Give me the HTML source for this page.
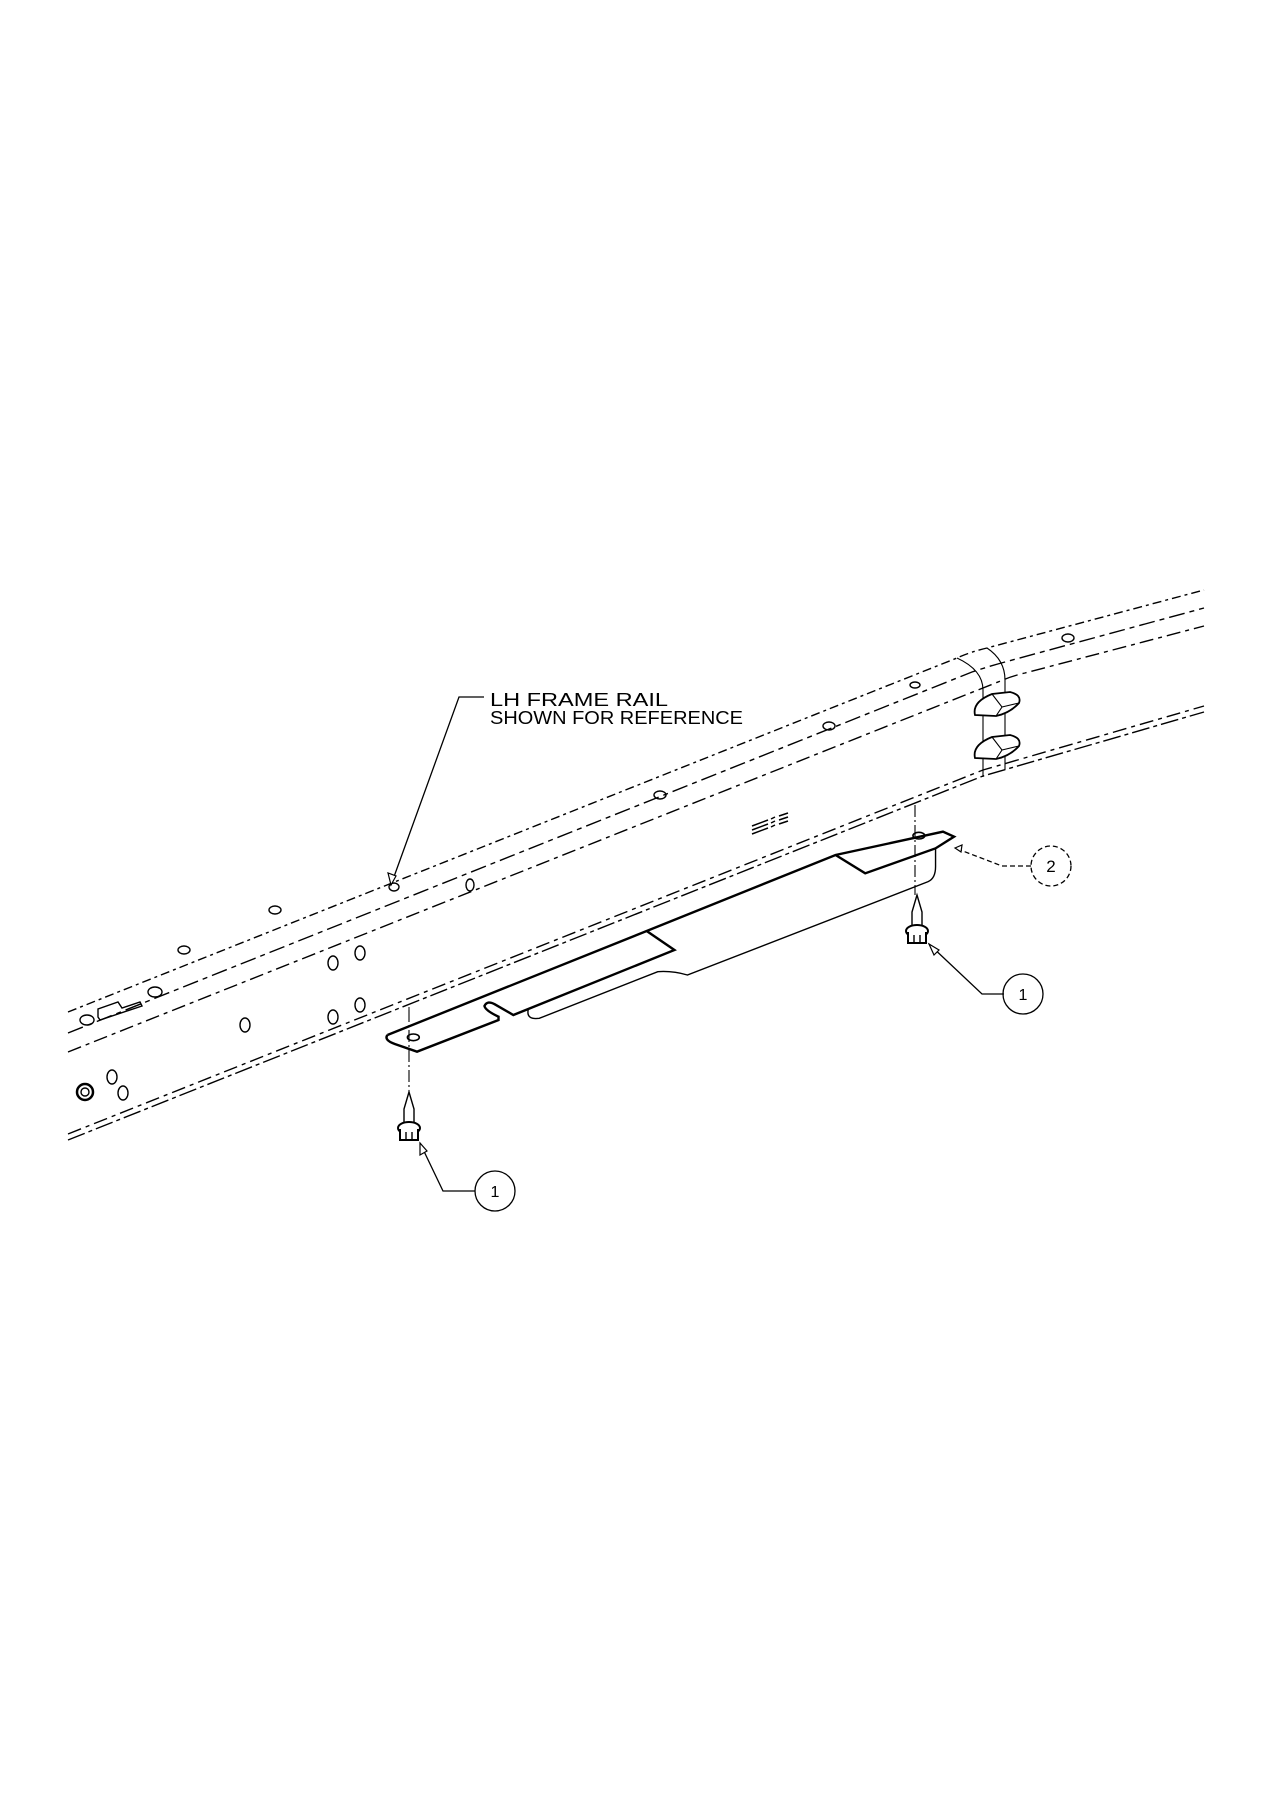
<!DOCTYPE html>
<html><head><meta charset="utf-8"><style>
html,body{margin:0;padding:0;background:#fff;}
svg{display:block;}
text{font-family:"Liberation Sans",sans-serif;fill:#000;}
</style></head><body>
<svg width="1272" height="1800" viewBox="0 0 1272 1800" xmlns="http://www.w3.org/2000/svg">
<g fill="none" stroke="#000" stroke-width="1.4">
<!-- rail top lines -->
<path d="M68,1012 L957,658 Q970,652 987,648 L1204,590" stroke-dasharray="9,4,3,4"/>
<path d="M68,1033 L972,672 Q990,666 1005,662 L1204,608" stroke-dasharray="16,5,5,5"/>
<path d="M68,1052 L1003,680 Q1012,676 1025,673 L1204,626" stroke-dasharray="14,5,4,5"/>
<!-- rail bottom lines -->
<path d="M68,1140 L983,776 L1204,712" stroke-dasharray="18,4,4,4"/>
<path d="M68,1134 L983,770 L1204,706" stroke-dasharray="14,5,4,5"/>
<!-- bend section lines -->
<path d="M957,658 Q983,670 983,690 L983,777" stroke-width="1.1"/>
<path d="M987,648 Q1005,660 1005,680 L1005,770" stroke-width="1.1"/>
</g>
<!-- gussets -->
<g fill="#fff" stroke="#000" stroke-width="1.8">
<path d="M975,715 Q972,702 992,694 L1010,692 Q1022,695 1019,703 Q1010,713 996,716 Z"/>
<path d="M992,694 L1002,707 L996,716 M1002,707 L1019,703" stroke-width="1.1"/>
<path d="M975,758 Q972,745 992,737 L1010,735 Q1022,738 1019,746 Q1010,756 996,759 Z"/>
<path d="M992,737 L1002,750 L996,759 M1002,750 L1019,746" stroke-width="1.1"/>
</g>
<!-- holes -->
<g fill="none" stroke="#000" stroke-width="1.4">
<ellipse cx="87" cy="1020" rx="7" ry="5"/>
<ellipse cx="155" cy="992" rx="7" ry="5"/>
<ellipse cx="184" cy="950" rx="6" ry="4"/>
<ellipse cx="275" cy="910" rx="6" ry="4"/>
<ellipse cx="394" cy="887" rx="5" ry="4"/>
<ellipse cx="660" cy="795" rx="6" ry="4"/>
<ellipse cx="829" cy="726" rx="6" ry="4"/>
<ellipse cx="1068" cy="638" rx="6" ry="4"/>
<ellipse cx="915" cy="685" rx="5" ry="3"/>
<path d="M98,1017 L98,1009 L118,1002 L122,1008 L140,1002 L142,1006 L100,1020 Z"/>
<ellipse cx="333" cy="963" rx="5" ry="7"/>
<ellipse cx="360" cy="953" rx="5" ry="7"/>
<ellipse cx="333" cy="1017" rx="5" ry="7"/>
<ellipse cx="360" cy="1005" rx="5" ry="7"/>
<ellipse cx="245" cy="1025" rx="5" ry="7"/>
<ellipse cx="470" cy="885" rx="4" ry="6"/>
<ellipse cx="112" cy="1077" rx="5" ry="7"/>
<ellipse cx="123" cy="1093" rx="5" ry="7"/>
<circle cx="85" cy="1092" r="8" stroke-width="2.5"/>
<circle cx="85" cy="1092" r="4"/>
</g>
<g stroke="#000" stroke-width="1.5">
<path d="M752,826 L768,820 M752,830 L768,824 M752,834 L768,828 M771,819 L775,817 M771,823 L775,821 M771,827 L775,825 M779,816 L788,813 M779,820 L788,817 M779,824 L788,821"/>
</g>
<!-- bracket -->
<g transform="translate(380,820) scale(0.37037,0.33333)" fill="none" stroke="#000">
<path vector-effect="non-scaling-stroke" stroke-width="2.4" d="M20,645 L720,333 L1230,105 L1520,35 L1550,50 L1500,85 L1310,160 L1230,105"/>
<path vector-effect="non-scaling-stroke" stroke-width="2.4" d="M20,645 Q10,660 40,672 L100,695 L320,600 L320,590 Q285,572 282,558 Q290,540 310,553 L360,585 L795,390 L720,333"/>
<path vector-effect="non-scaling-stroke" stroke-width="1.4" d="M400,570 Q395,600 430,595 L750,455 Q790,452 830,465 L1480,185 Q1500,175 1500,140 L1500,85"/>
<ellipse vector-effect="non-scaling-stroke" stroke-width="1.6" cx="90" cy="652" rx="16" ry="10"/>
<ellipse vector-effect="non-scaling-stroke" stroke-width="1.6" cx="1455" cy="47" rx="16" ry="10"/>
</g>
<!-- centerlines -->
<g stroke="#000" stroke-width="1.1" stroke-dasharray="12,3,2,3">
<line x1="409" y1="1010" x2="409" y2="1092"/>
<line x1="915" y1="805" x2="915" y2="895"/>
</g>
<line x1="409" y1="1007" x2="409" y2="1020" stroke="#000" stroke-width="1"/>
<!-- bolts -->
<g fill="#fff" stroke="#000" stroke-width="1.4">
<g transform="translate(409,1092)">
<path d="M0,0 L-5,17 L-5,32 L5,32 L5,17 Z"/>
<ellipse cx="0" cy="36" rx="11" ry="6" stroke-width="2"/>
<path d="M-9,37 L-9,48 L9,48 L9,37" stroke-width="2"/>
<path d="M-3,40 L-3,48 M3,40 L3,48"/>
</g>
<g transform="translate(917,895)">
<path d="M0,0 L-5,17 L-5,32 L5,32 L5,17 Z"/>
<ellipse cx="0" cy="36" rx="11" ry="6" stroke-width="2"/>
<path d="M-9,37 L-9,48 L9,48 L9,37" stroke-width="2"/>
<path d="M-3,40 L-3,48 M3,40 L3,48"/>
</g>
</g>
<!-- leaders & callouts -->
<g fill="none" stroke="#000" stroke-width="1.3">
<path d="M484,697 L459,697 L391,885"/>
<path d="M475,1191 L443,1191 L420,1143"/>
<path d="M1004,994 L982,994 L929,944"/>
<path d="M1031,866 L1002,866 L955,848" stroke-dasharray="5,3"/>
<circle cx="495" cy="1191" r="20"/>
<circle cx="1023" cy="994" r="20"/>
<circle cx="1051" cy="866" r="20" stroke-dasharray="5,3"/>
</g>
<g fill="#fff" stroke="#000" stroke-width="1.2">
<path d="M391,885 L388,873 L396,876 Z"/>
<path d="M420,1143 L420,1155 L427,1151 Z"/>
<path d="M929,944 L934,955 L939,950 Z"/>
<path d="M955,848 L962,845 L961,852 Z"/>
</g>
<text x="490" y="706" font-size="18" textLength="178" lengthAdjust="spacingAndGlyphs">LH FRAME RAIL</text>
<text x="490" y="724" font-size="18" textLength="253" lengthAdjust="spacingAndGlyphs">SHOWN FOR REFERENCE</text>
<text x="495" y="1197" font-size="16" text-anchor="middle" font-family="Liberation Serif">1</text>
<text x="1023" y="1000" font-size="16" text-anchor="middle" font-family="Liberation Serif">1</text>
<text x="1051" y="872" font-size="17" text-anchor="middle">2</text>
</svg>
</body></html>
